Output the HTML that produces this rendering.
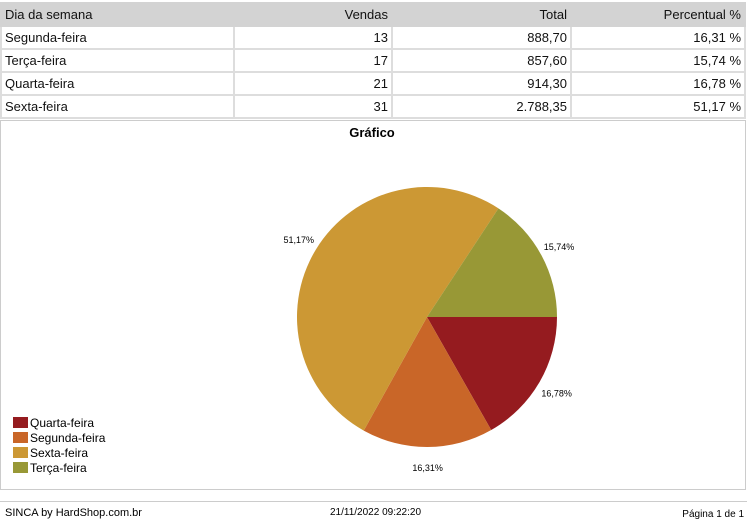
<!DOCTYPE html>
<html><head><meta charset="utf-8"><style>
body{margin:0;width:747px;height:522px;background:#fff;font-family:"Liberation Sans",sans-serif;position:relative;overflow:hidden}
table{position:absolute;left:0;top:2px;border-collapse:collapse;width:746px;font-size:13px;color:#111}
td,th{height:21px;padding:0 3px;border:2px solid #ddd;font-weight:normal}
th{background:#d3d3d3;border-color:#d3d3d3}
.r{text-align:right}
#box{position:absolute;left:0;top:120px;width:744px;height:368px;border:1px solid #ccc}
#foot{position:absolute;left:0;top:501px;width:747px;border-top:1px solid #ccc;font-size:11px}
</style></head><body>
<table>
<tr><th style="text-align:left;width:225px">Dia da semana</th><th class="r" style="width:150px">Vendas</th><th class="r" style="width:171px">Total</th><th class="r">Percentual %</th></tr>
<tr><td>Segunda-feira</td><td class="r">13</td><td class="r">888,70</td><td class="r">16,31 %</td></tr>
<tr><td>Terça-feira</td><td class="r">17</td><td class="r">857,60</td><td class="r">15,74 %</td></tr>
<tr><td>Quarta-feira</td><td class="r">21</td><td class="r">914,30</td><td class="r">16,78 %</td></tr>
<tr><td>Sexta-feira</td><td class="r">31</td><td class="r">2.788,35</td><td class="r">51,17 %</td></tr>
</table>
<div id="box"></div>
<svg id="chart" width="747" height="500" style="position:absolute;left:0;top:0">
<text x="372" y="137" text-anchor="middle" font-size="13" font-weight="bold" font-family="Liberation Sans, sans-serif">Gráfico</text>
</svg>
<div id="foot">
<span style="position:absolute;left:5px;top:5px">SINCA by HardShop.com.br</span>
<span style="position:absolute;left:330px;top:5px;font-size:10px">21/11/2022 09:22:20</span>
<span style="position:absolute;right:3px;top:7px;font-size:10px">Página 1 de 1</span>
</div>
<script>
const categories=["Quarta-feira","Segunda-feira","Sexta-feira","Terça-feira"];
const values=[16.78,16.31,51.17,15.74];
const labels=["16,78%","16,31%","51,17%","15,74%"];
const colors=["#951b1f","#c96628","#cc9834","#989836"];
const NS="http://www.w3.org/2000/svg";
const svg=document.getElementById('chart');
const cx=427,cy=317,R=130,LR=150;
const total=values.reduce((a,b)=>a+b,0);
let a0=0;
values.forEach((v,i)=>{
  const a1=a0+v/total*2*Math.PI;
  const p=document.createElementNS(NS,'path');
  const x0=cx+R*Math.cos(a0),y0=cy+R*Math.sin(a0),x1=cx+R*Math.cos(a1),y1=cy+R*Math.sin(a1);
  p.setAttribute('d',`M${cx},${cy}L${x0},${y0}A${R},${R} 0 ${a1-a0>Math.PI?1:0} 1 ${x1},${y1}Z`);
  p.setAttribute('fill',colors[i]);
  
  
  svg.appendChild(p);
  const am=(a0+a1)/2;
  const t=document.createElementNS(NS,'text');
  t.setAttribute('x',cx+LR*Math.cos(am));
  t.setAttribute('y',cy+LR*Math.sin(am)+4);
  t.setAttribute('text-anchor','middle');
  t.setAttribute('font-size','9');
  t.setAttribute('font-family','Liberation Sans, sans-serif');
  t.textContent=labels[i];
  
  
  svg.appendChild(t);
  const r=document.createElementNS(NS,'rect');
  r.setAttribute('x',13);r.setAttribute('y',417+i*15);r.setAttribute('width',15);r.setAttribute('height',11);
  r.setAttribute('fill',colors[i]);
  
  
  svg.appendChild(r);
  const lt=document.createElementNS(NS,'text');
  lt.setAttribute('x',30);lt.setAttribute('y',427+i*15);
  lt.setAttribute('font-size','12');
  lt.setAttribute('font-family','Liberation Sans, sans-serif');
  lt.textContent=categories[i];
  
  
  svg.appendChild(lt);
  a0=a1;
});
</script>
</body></html>
